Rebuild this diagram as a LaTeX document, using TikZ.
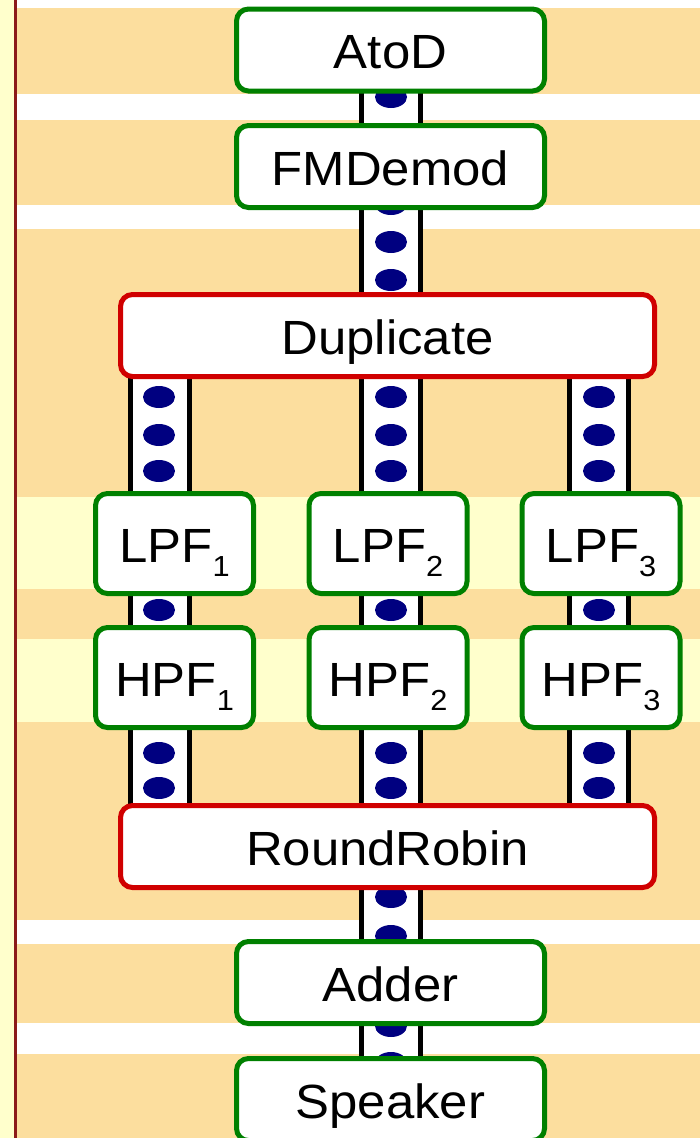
\documentclass[tikz,border=0pt]{standalone}
\usepackage{fontspec}
\setmainfont[FakeStretch=1.06]{Liberation Sans}
\usetikzlibrary{calc}
\pgfdeclarelayer{bands}
\pgfdeclarelayer{pipes}
\pgfsetlayers{bands,pipes,main}

\definecolor{bandorange}{HTML}{FCDE9E}
\definecolor{bandyellow}{HTML}{FFFFCC}
\definecolor{edgered}{HTML}{8B1A1A}
\definecolor{filtergreen}{HTML}{008000}
\definecolor{splitred}{HTML}{D00000}
\definecolor{itemnavy}{HTML}{000080}

% lowered index digit for the filter names
\newcommand\idx[1]{\raisebox{-14pt}{\fontsize{29}{30}\selectfont #1}}

\tikzset{
  block/.style={draw=filtergreen, line width=5, fill=white, rounded corners=12,
    minimum width=308, minimum height=82, inner sep=0,
    text height=37, text depth=0, font=\fontsize{48}{56}\selectfont},
  splitbox/.style={block, draw=splitred, minimum width=534},
  filterbox/.style={block, minimum width=158, minimum height=100},
  pipe/.style={draw=black, line width=4.7, double=white, double distance=54},
  item/.style={fill=itemnavy}
}

\begin{document}
\begin{tikzpicture}[x=1pt, y=-1pt]
\useasboundingbox (0,0) rectangle (700,1138);
\clip (0,0) rectangle (700,1138);

% pipeline stages
\node[block]      (atod) at (390.5, 50)    {AtoD};
\node[block]      (fm)   at (390.5, 166.5) {FMDemod};
\node[splitbox]   (dup)  at (387.5, 335.5) {Duplicate};
\node[filterbox]  (lpf1) at (174.5, 543.5) {LPF\idx{1}};
\node[filterbox]  (lpf2) at (388, 543.5)   {LPF\idx{2}};
\node[filterbox]  (lpf3) at (601, 543.5)   {LPF\idx{3}};
\node[filterbox]  (hpf1) at (174.5, 677.5) {HPF\idx{1}};
\node[filterbox]  (hpf2) at (388, 677.5)   {HPF\idx{2}};
\node[filterbox]  (hpf3) at (601, 677.5)   {HPF\idx{3}};
\node[splitbox]   (rr)   at (387.5, 846.5) {RoundRobin};
\node[block]      (add)  at (390.5, 982.5) {Adder};
\node[block]      (spk)  at (390.5, 1099.5) {Speaker};

% channel columns
\coordinate (m)  at (391, 0);
\coordinate (c1) at (160, 0);
\coordinate (c2) at (391, 0);
\coordinate (c3) at (599, 0);

% background stripes
\begin{pgfonlayer}{bands}
  \fill[white] (0,0) rectangle (700,1138);
  \fill[bandyellow] (0,0) rectangle (14,1138);
  \fill[edgered] (14,0) rectangle (16.6,1138);
  \foreach \a/\b in {8/94, 120/205, 229/497, 589/639, 722/920, 944/1023, 1054/1138}
    \fill[bandorange] (16.6,\a) rectangle (700,\b);
  \foreach \a/\b in {497/589, 639/722}
    \fill[bandyellow] (16.6,\a) rectangle (700,\b);
\end{pgfonlayer}

% channels with their queued items
\begin{pgfonlayer}{pipes}
  \draw[pipe] (atod.center -| m) -- (fm.center -| m);
  \draw[pipe] (fm.center -| m) -- (dup.center -| m);
  \foreach \k in {1,2,3} {
    \draw[pipe] (dup.center -| c\k) -- (lpf\k.center -| c\k);
    \draw[pipe] (lpf\k.center -| c\k) -- (hpf\k.center -| c\k);
    \draw[pipe] (hpf\k.center -| c\k) -- (rr.center -| c\k);
  }
  \draw[pipe] (rr.center -| m) -- (add.center -| m);
  \draw[pipe] (add.center -| m) -- (spk.center -| m);

  \foreach \y in {97, 204, 242, 280, 897, 936, 1026, 1063}
    \fill[item] (391,\y) ellipse [x radius=16, y radius=11];
  \foreach \x in {159, 391, 599}
    \foreach \y in {397, 435, 471, 610, 753, 788}
      \fill[item] (\x,\y) ellipse [x radius=16, y radius=11];
\end{pgfonlayer}
\end{tikzpicture}
\end{document}
